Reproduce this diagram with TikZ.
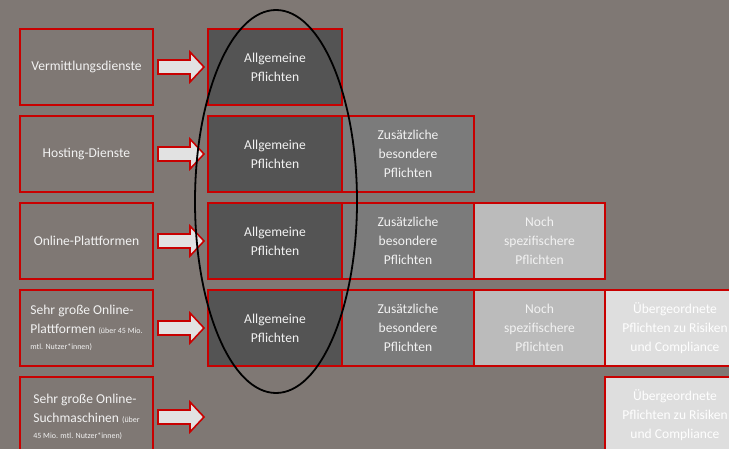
\documentclass[tikz,border=0pt]{standalone}
\usepackage{fontspec}
\setmainfont{Carlito}
\usetikzlibrary{calc}

\definecolor{bg}{RGB}{127,120,116}
\definecolor{frame}{RGB}{200,0,0}
\definecolor{lvlA}{RGB}{84,84,84}
\definecolor{lvlB}{RGB}{123,123,123}
\definecolor{lvlC}{RGB}{187,187,187}
\definecolor{lvlD}{RGB}{222,222,222}
\definecolor{txt}{RGB}{242,242,242}
\definecolor{arrowfill}{RGB}{226,226,226}

\tikzset{
  box/.style={draw=frame, line width=1.6bp, anchor=north west, inner sep=0pt,
    outer sep=0pt, minimum height=76bp, text=txt, align=center,
    font=\fontsize{13.6}{19}\selectfont},
  svc/.style={box, minimum width=133bp},
  general/.style={box, fill=lvlA, minimum width=134bp},
  extra/.style={box, fill=lvlB, minimum width=132bp},
  special/.style={box, fill=lvlC, minimum width=131bp},
  systemic/.style={box, fill=lvlD, minimum width=140bp, text=white!96!lvlD},
  arrowshadow/.style={fill=black, fill opacity=.3, shift={(1.5bp,-1.8bp)}},
  arrowbody/.style={fill=arrowfill, draw=frame, line width=1.6bp, line join=miter},
}

% thick block arrow from a service box to the first duty box of its row
\newcommand\wideArrow[2]{%
  \path[arrowshadow] let \p1=($(#1.east)+(5bp,0)$), \p2=($(#2)+(-4bp,0)$) in
    (\x1,\y1+7bp) -- (\x2-14bp,\y1+7bp) -- (\x2-14bp,\y1+15bp) -- (\x2,\y1)
    -- (\x2-14bp,\y1-15bp) -- (\x2-14bp,\y1-7bp) -- (\x1,\y1-7bp) -- cycle;
  \path[arrowbody] let \p1=($(#1.east)+(5bp,0)$), \p2=($(#2)+(-4bp,0)$) in
    (\x1,\y1+7bp) -- (\x2-14bp,\y1+7bp) -- (\x2-14bp,\y1+15bp) -- (\x2,\y1)
    -- (\x2-14bp,\y1-15bp) -- (\x2-14bp,\y1-7bp) -- (\x1,\y1-7bp) -- cycle;
}

\newcommand\smallnote[1]{{\fontsize{8}{10}\selectfont #1}}

\begin{document}
\begin{tikzpicture}[x=1bp,y=-1bp]
\fill[bg] (0,0) rectangle (729,449);
\useasboundingbox (0,0) rectangle (729,449);
\clip (0,0) rectangle (729,449);

% service categories
\node[svc] (s1) at (20,29) {Vermittlungsdienste};
\node[svc] (s2) at (20,116) {Hosting-Dienste};
\node[svc] (s3) at (20,203) {Online-Plattformen};
\node[svc, align=left] (s4) at (20,290)
  {Sehr große Online-\\Plattformen \smallnote{(über 45 Mio.}\\[-3bp]\smallnote{mtl. Nutzer*innen)}};
\node[svc, minimum height=80bp, align=left] (s5) at (20,377)
  {Sehr große Online-\\Suchmaschinen \smallnote{(über}\\[-3bp]\smallnote{45 Mio. mtl. Nutzer*innen)}};

% general duties
\node[general] (g1) at (208,29) {Allgemeine\\Pflichten};
\node[general] (g2) at (208,116) {Allgemeine\\Pflichten};
\node[general] (g3) at (208,203) {Allgemeine\\Pflichten};
\node[general] (g4) at (208,290) {Allgemeine\\Pflichten};
\coordinate (t5) at (208,415);

% additional duties
\node[extra] (e2) at (342,116) {Zusätzliche\\besondere\\Pflichten};
\node[extra] (e3) at (342,203) {Zusätzliche\\besondere\\Pflichten};
\node[extra] (e4) at (342,290) {Zusätzliche\\besondere\\Pflichten};

% specific duties
\node[special] (p3) at (474,203) {Noch\\spezifischere\\Pflichten};
\node[special] (p4) at (474,290) {Noch\\spezifischere\\Pflichten};

% systemic risk duties
\node[systemic] (r4) at (605,290) {Übergeordnete\\Pflichten zu Risiken\\und Compliance};
\node[systemic] (r5) at (605,377) {Übergeordnete\\Pflichten zu Risiken\\und Compliance};

% arrows
\wideArrow{s1}{g1.west}
\wideArrow{s2}{g2.west}
\wideArrow{s3}{g3.west}
\wideArrow{s4}{g4.west}
\wideArrow{s5}{t5}

% ring around the general duties column
\draw[line width=1.8bp, black] (276,201.5) ellipse [x radius=81, y radius=191.5];
\end{tikzpicture}
\end{document}
